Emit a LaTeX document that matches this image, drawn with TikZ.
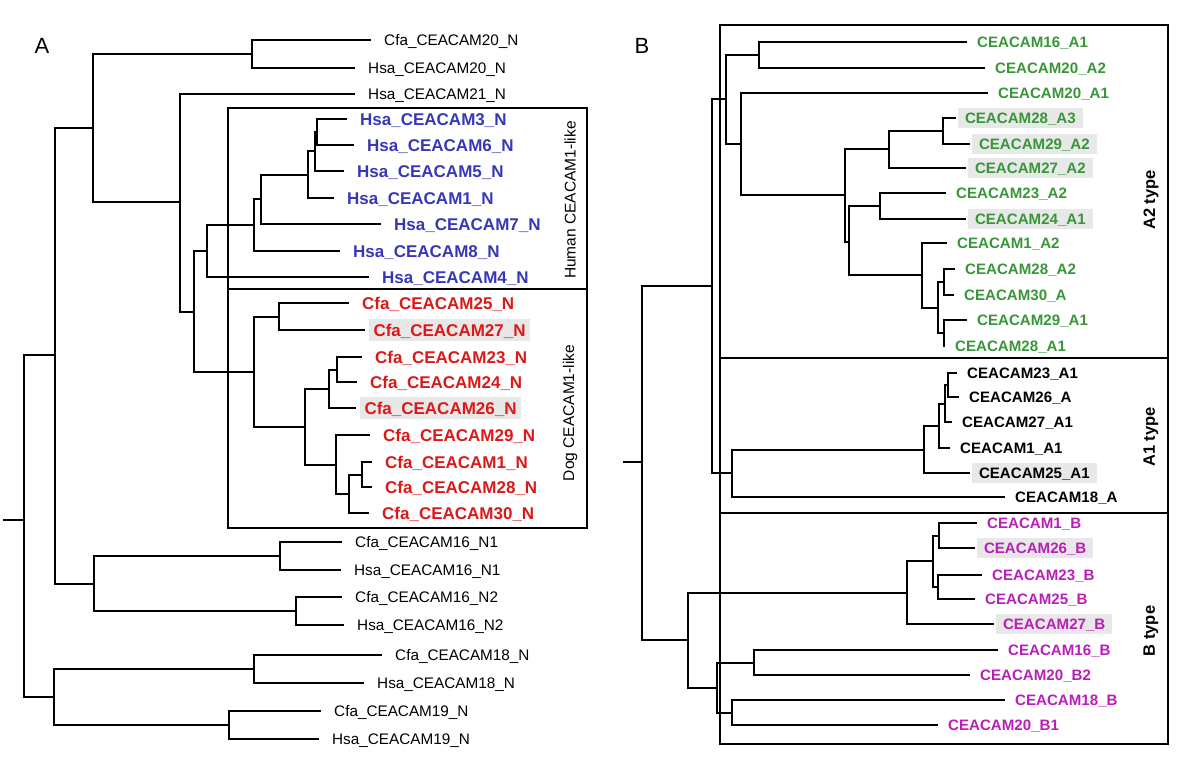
\documentclass[tikz,border=0pt]{standalone}
\usepackage{fontspec}
\setmainfont{Liberation Sans}
\definecolor{hsablue}{RGB}{55,55,185}
\definecolor{cfared}{RGB}{220,25,25}
\definecolor{atwogreen}{RGB}{55,150,55}
\definecolor{btypepink}{RGB}{185,30,185}
\definecolor{hlgray}{RGB}{232,232,232}

\begin{document}
\begin{tikzpicture}[
    x=1pt,y=-1pt,
    branch/.style={line width=2pt},
    frame/.style={line width=1.3pt},
    leafA/.style={anchor=west,inner xsep=13pt,inner ysep=0pt,text height=11pt,text depth=0pt,
      font=\fontsize{15.3}{18}\selectfont},
    cladeA/.style={leafA,text height=12.2pt,font=\bfseries\fontsize{17}{20}\selectfont},
    hlA/.style={fill=hlgray,inner xsep=4.5pt,inner ysep=5pt,outer xsep=4pt},
    leafB/.style={anchor=west,inner xsep=10pt,inner ysep=0pt,text height=10.8pt,text depth=0pt,
      font=\bfseries\fontsize{15.1}{18}\selectfont},
    hlB/.style={fill=hlgray,inner xsep=7pt,inner ysep=4.5pt,outer xsep=2pt},
    group/.style={rotate=90,font=\fontsize{15.5}{18}\selectfont},
    typelabel/.style={rotate=90,font=\bfseries\fontsize{16.5}{20}\selectfont},
    panel/.style={font=\fontsize{22}{26}\selectfont}
  ]
    \useasboundingbox (0,0) rectangle (1200,762);
    \node[panel] (pA) at (42,46) {A};
    \node[panel] (pB) at (642,46) {B};

    \draw[frame] (228,108) rectangle (587,528);
    \draw[frame] (228,289) -- (587,289);
    \draw[frame] (720,25) rectangle (1168,744);
    \draw[frame] (720,358) -- (1168,358);
    \draw[frame] (720,513) -- (1168,513);

    \node[group] (human) at (570,200) {Human CEACAM1-like};
    \node[group] (dog) at (570,413) {Dog CEACAM1-like};
    \node[typelabel] (atwo) at (1151,200) {A2 type};
    \node[typelabel] (aone) at (1151,437) {A1 type};
    \node[typelabel] (btype) at (1151,631) {B type};

    \node[leafA] (cfa20) at (371,40) {Cfa\_CEACAM20\_N};
    \node[leafA] (hsa20) at (355,68) {Hsa\_CEACAM20\_N};
    \node[leafA] (hsa21) at (355,94) {Hsa\_CEACAM21\_N};
    \node[cladeA,text=hsablue] (hsa3) at (347,119) {Hsa\_CEACAM3\_N};
    \node[cladeA,text=hsablue] (hsa6) at (354,145) {Hsa\_CEACAM6\_N};
    \node[cladeA,text=hsablue] (hsa5) at (344,171) {Hsa\_CEACAM5\_N};
    \node[cladeA,text=hsablue] (hsa1) at (334,198) {Hsa\_CEACAM1\_N};
    \node[cladeA,text=hsablue] (hsa7) at (381,224) {Hsa\_CEACAM7\_N};
    \node[cladeA,text=hsablue] (hsa8) at (340,251) {Hsa\_CEACAM8\_N};
    \node[cladeA,text=hsablue] (hsa4) at (369,277) {Hsa\_CEACAM4\_N};
    \node[cladeA,text=cfared] (cfa25) at (349,303) {Cfa\_CEACAM25\_N};
    \node[cladeA,hlA,text=cfared] (cfa27) at (365,330) {Cfa\_CEACAM27\_N};
    \node[cladeA,text=cfared] (cfa23) at (362,357) {Cfa\_CEACAM23\_N};
    \node[cladeA,text=cfared] (cfa24) at (357,382) {Cfa\_CEACAM24\_N};
    \node[cladeA,hlA,text=cfared] (cfa26) at (356,408) {Cfa\_CEACAM26\_N};
    \node[cladeA,text=cfared] (cfa29) at (370,435) {Cfa\_CEACAM29\_N};
    \node[cladeA,text=cfared] (cfa1) at (372,462) {Cfa\_CEACAM1\_N};
    \node[cladeA,text=cfared] (cfa28) at (372,487) {Cfa\_CEACAM28\_N};
    \node[cladeA,text=cfared] (cfa30) at (369,513) {Cfa\_CEACAM30\_N};
    \node[leafA] (cfa16n1) at (342,542) {Cfa\_CEACAM16\_N1};
    \node[leafA] (hsa16n1) at (341,570) {Hsa\_CEACAM16\_N1};
    \node[leafA] (cfa16n2) at (342,597) {Cfa\_CEACAM16\_N2};
    \node[leafA] (hsa16n2) at (344,625) {Hsa\_CEACAM16\_N2};
    \node[leafA] (cfa18) at (382,655) {Cfa\_CEACAM18\_N};
    \node[leafA] (hsa18) at (364,683) {Hsa\_CEACAM18\_N};
    \node[leafA] (cfa19) at (321,711) {Cfa\_CEACAM19\_N};
    \node[leafA] (hsa19) at (319,739) {Hsa\_CEACAM19\_N};

    \coordinate (n20) at (252,54);
    \coordinate (hA) at (317,132);
    \coordinate (hB) at (315,151.5);
    \coordinate (hC) at (308,175);
    \coordinate (hD) at (261,199.5);
    \coordinate (hE) at (254,225);
    \coordinate (hR) at (207,251);
    \coordinate (dA) at (279,316.5);
    \coordinate (dB) at (337,369.5);
    \coordinate (dC) at (329,389);
    \coordinate (dD) at (362,474.5);
    \coordinate (dE) at (349,494);
    \coordinate (dF) at (336,464.5);
    \coordinate (dG) at (305,427);
    \coordinate (dR) at (254,372);
    \coordinate (hd) at (194,311.5);
    \coordinate (n21) at (180,202);
    \coordinate (nA) at (93,128);
    \coordinate (n161) at (280,556);
    \coordinate (n162) at (296,611);
    \coordinate (n16) at (94,583.5);
    \coordinate (nB) at (55,355);
    \coordinate (n18) at (254,669);
    \coordinate (n19) at (229,725);
    \coordinate (n1819) at (54,697);
    \coordinate (rootA) at (24,520);
    \coordinate (stubA) at (3,520);

    \draw[branch] (stubA) -- (rootA);
    \foreach \p/\c in {n20/cfa20,n20/hsa20,hA/hsa3,hA/hsa6,hB/hA,hB/hsa5,hC/hB,hC/hsa1,
        hD/hC,hD/hsa7,hE/hD,hE/hsa8,hR/hE,hR/hsa4,dA/cfa25,dA/cfa27,dB/cfa23,dB/cfa24,
        dC/dB,dC/cfa26,dD/cfa1,dD/cfa28,dE/dD,dE/cfa30,dF/cfa29,dF/dE,dG/dC,dG/dF,
        dR/dA,dR/dG,hd/hR,hd/dR,n21/hsa21,n21/hd,nA/n20,nA/n21,n161/cfa16n1,n161/hsa16n1,
        n162/cfa16n2,n162/hsa16n2,n16/n161,n16/n162,nB/nA,nB/n16,n18/cfa18,n18/hsa18,
        n19/cfa19,n19/hsa19,n1819/n18,n1819/n19,rootA/nB,rootA/n1819}
      \draw[branch] (\p) |- (\c);

    \node[leafB,text=atwogreen] (b16a1) at (967,42) {CEACAM16\_A1};
    \node[leafB,text=atwogreen] (b20a2) at (985,68) {CEACAM20\_A2};
    \node[leafB,text=atwogreen] (b20a1) at (988,93) {CEACAM20\_A1};
    \node[leafB,hlB,text=atwogreen] (b28a3) at (956,118) {CEACAM28\_A3};
    \node[leafB,hlB,text=atwogreen] (b29a2) at (970,144) {CEACAM29\_A2};
    \node[leafB,hlB,text=atwogreen] (b27a2) at (966,168) {CEACAM27\_A2};
    \node[leafB,text=atwogreen] (b23a2) at (946,193) {CEACAM23\_A2};
    \node[leafB,hlB,text=atwogreen] (b24a1) at (966,219) {CEACAM24\_A1};
    \node[leafB,text=atwogreen] (b1a2) at (947,243) {CEACAM1\_A2};
    \node[leafB,text=atwogreen] (b28a2) at (955,269) {CEACAM28\_A2};
    \node[leafB,text=atwogreen] (b30a) at (954,295) {CEACAM30\_A};
    \node[leafB,text=atwogreen] (b29a1) at (967,320) {CEACAM29\_A1};
    \node[leafB,text=atwogreen] (b28a1) at (945,346) {CEACAM28\_A1};
    \node[leafB] (b23a1) at (957,373) {CEACAM23\_A1};
    \node[leafB] (b26a) at (959,397) {CEACAM26\_A};
    \node[leafB] (b27a1) at (952,422) {CEACAM27\_A1};
    \node[leafB] (b1a1) at (950,448) {CEACAM1\_A1};
    \node[leafB,hlB] (b25a1) at (970,473) {CEACAM25\_A1};
    \node[leafB] (b18a) at (1005,497) {CEACAM18\_A};
    \node[leafB,text=btypepink] (b1b) at (977,523) {CEACAM1\_B};
    \node[leafB,hlB,text=btypepink] (b26b) at (975,548) {CEACAM26\_B};
    \node[leafB,text=btypepink] (b23b) at (982,575) {CEACAM23\_B};
    \node[leafB,text=btypepink] (b25b) at (975,599) {CEACAM25\_B};
    \node[leafB,hlB,text=btypepink] (b27b) at (994,624) {CEACAM27\_B};
    \node[leafB,text=btypepink] (b16b) at (998,650) {CEACAM16\_B};
    \node[leafB,text=btypepink] (b20b2) at (970,675) {CEACAM20\_B2};
    \node[leafB,text=btypepink] (b18b) at (1005,700) {CEACAM18\_B};
    \node[leafB,text=btypepink] (b20b1) at (938,725) {CEACAM20\_B1};

    \coordinate (a1620) at (759,55);
    \coordinate (a2829) at (943,131);
    \coordinate (a27) at (889,149.5);
    \coordinate (a2324) at (880,206);
    \coordinate (a2830) at (944,282);
    \coordinate (a2928) at (944,333);
    \coordinate (aX) at (938,307.5);
    \coordinate (aY) at (922,275);
    \coordinate (aZ) at (849,242);
    \coordinate (aW) at (845,195);
    \coordinate (aV) at (741,144);
    \coordinate (aU) at (726,99);
    \coordinate (c2326) at (948,385);
    \coordinate (cX) at (945,403.5);
    \coordinate (cY) at (939,426);
    \coordinate (cZ) at (924,449.5);
    \coordinate (c18) at (732,473);
    \coordinate (aT) at (712,286);
    \coordinate (e126) at (939,535.5);
    \coordinate (e2325) at (938,587);
    \coordinate (eX) at (933,561);
    \coordinate (eY) at (907,592.5);
    \coordinate (e1620) at (754,662.5);
    \coordinate (e1820) at (732,712.5);
    \coordinate (eZ) at (717,687.5);
    \coordinate (eW) at (688,640);
    \coordinate (rootB) at (642,462);
    \coordinate (stubB) at (623,462);

    \draw[branch] (stubB) -- (rootB);
    \foreach \p/\c in {a1620/b16a1,a1620/b20a2,a2829/b28a3,a2829/b29a2,a27/a2829,a27/b27a2,
        a2324/b23a2,a2324/b24a1,a2830/b28a2,a2830/b30a,a2928/b29a1,a2928/b28a1,aX/a2830,aX/a2928,
        aY/b1a2,aY/aX,aZ/a2324,aZ/aY,aW/a27,aW/aZ,aV/b20a1,aV/aW,aU/a1620,aU/aV,
        c2326/b23a1,c2326/b26a,cX/c2326,cX/b27a1,cY/cX,cY/b1a1,cZ/cY,cZ/b25a1,c18/cZ,c18/b18a,
        aT/aU,aT/c18,e126/b1b,e126/b26b,e2325/b23b,e2325/b25b,eX/e126,eX/e2325,eY/eX,eY/b27b,
        e1620/b16b,e1620/b20b2,e1820/b18b,e1820/b20b1,eZ/e1620,eZ/e1820,eW/eY,eW/eZ,
        rootB/aT,rootB/eW}
      \draw[branch] (\p) |- (\c);
  \end{tikzpicture}
\end{document}
